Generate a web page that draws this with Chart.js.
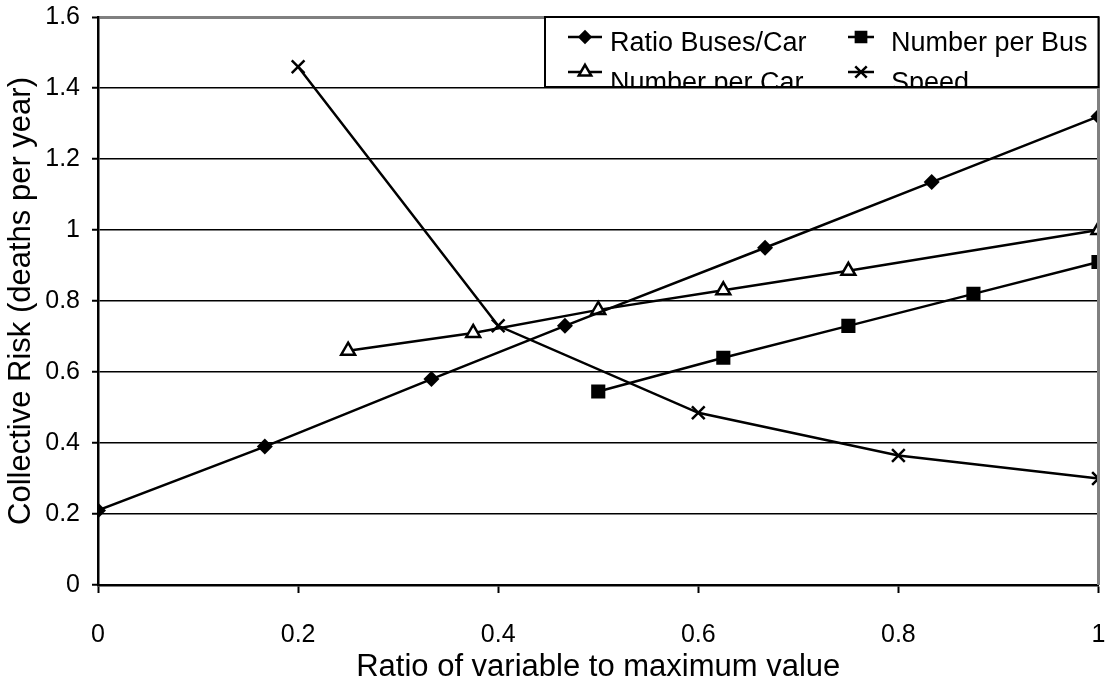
<!DOCTYPE html>
<html>
<head>
<meta charset="utf-8">
<script src="https://cdn.jsdelivr.net/npm/chart.js@4/dist/chart.umd.min.js"></script>
<style>
  html, body { margin: 0; padding: 0; background: #fff; overflow: hidden; }
  #wrap { width: 1110px; height: 681px; position: relative; }
</style>
</head>
<body>
<div id="wrap"><canvas id="chart"></canvas></div>
<script>
// values
const busCarX = [0, 0.1667, 0.3333, 0.4667, 0.6667, 0.8333, 1];
const busCarY = [0.21, 0.39, 0.58, 0.73, 0.95, 1.135, 1.32];
const perBusX = [0.5, 0.625, 0.75, 0.875, 1];
const perBusY = [0.545, 0.64, 0.73, 0.82, 0.91];
const perCarX = [0.25, 0.375, 0.5, 0.625, 0.75, 1];
const perCarY = [0.66, 0.71, 0.775, 0.83, 0.885, 1.0];
const speedX = [0.2, 0.4, 0.6, 0.8, 1];
const speedY = [1.46, 0.73, 0.485, 0.365, 0.30];

const seriesNames = ['Ratio Buses/Car', 'Number per Bus', 'Number per Car', 'Speed'];
const xTickLabels = ['0', '0.2', '0.4', '0.6', '0.8', '1'];
const yTickLabels = ['0', '0.2', '0.4', '0.6', '0.8', '1', '1.2', '1.4', '1.6'];

const FONT = "'Liberation Sans', Arial, sans-serif";

function pts(xs, ys) {
    return xs.map((x, i) => ({ x: x, y: ys[i] }));
}

function series(label, data, style, radius, fill, pointBorder) {
    return {
        label: label,
        data: data,
        showLine: true,
        borderColor: '#000',
        borderWidth: 2.5,
        pointStyle: style,
        pointRadius: radius,
        pointHoverRadius: radius,
        pointBackgroundColor: fill,
        pointBorderColor: '#000',
        pointBorderWidth: pointBorder
    };
}

// draws the boxed legend inside the top right of the plot, clipped like the original
const boxLegend = {
    id: 'boxLegend',
    afterDraw(chart) {
        const { ctx, chartArea } = chart;
        // gray plot border on the right
        ctx.save();
        ctx.strokeStyle = '#808080';
        ctx.lineWidth = 3;
        ctx.beginPath();
        ctx.moveTo(chartArea.right, chartArea.top);
        ctx.lineTo(chartArea.right, chartArea.bottom);
        ctx.stroke();
        ctx.restore();

        const left = 545, top = chartArea.top, right = chartArea.right, bottom = 87;
        const lineX = [[568, 602], [848, 874]];
        const textX = [610, 891];
        const rowY = [37, 72];
        const baseY = [51, 91];

        ctx.save();
        ctx.fillStyle = '#fff';
        ctx.fillRect(left, top, right - left, bottom - top);
        ctx.beginPath();
        ctx.rect(left, top, right - left, bottom - top);
        ctx.clip();
        chart.data.datasets.forEach((ds, i) => {
            const col = i % 2, row = Math.floor(i / 2);
            const y = rowY[row];
            ctx.strokeStyle = '#000';
            ctx.lineWidth = 2.5;
            ctx.beginPath();
            ctx.moveTo(lineX[col][0], y);
            ctx.lineTo(lineX[col][1], y);
            ctx.stroke();
            ctx.fillStyle = ds.pointBackgroundColor;
            ctx.strokeStyle = '#000';
            ctx.lineWidth = ds.pointBorderWidth;
            Chart.helpers.drawPoint(ctx, {
                pointStyle: ds.pointStyle,
                radius: ds.pointRadius * 0.9,
                rotation: 0,
                borderWidth: ds.pointBorderWidth
            }, (lineX[col][0] + lineX[col][1]) / 2, y);
            ctx.fillStyle = '#000';
            ctx.font = '27px ' + FONT;
            ctx.textBaseline = 'alphabetic';
            ctx.textAlign = 'left';
            ctx.fillText(ds.label, textX[col], baseY[row]);
        });
        ctx.restore();

        ctx.save();
        ctx.strokeStyle = '#000';
        ctx.lineWidth = 2;
        ctx.strokeRect(left, top, right - left, bottom - top);
        ctx.restore();
    }
};

const ctx = document.getElementById('chart').getContext('2d');
new Chart(ctx, {
    type: 'scatter',
    data: {
        datasets: [
            series(seriesNames[0], pts(busCarX, busCarY), 'rectRot', 8, '#000', 0),
            series(seriesNames[1], pts(perBusX, perBusY), 'rect', 10, '#000', 0),
            series(seriesNames[2], pts(perCarX, perCarY), 'triangle', 8, '#fff', 2.5),
            series(seriesNames[3], pts(speedX, speedY), 'crossRot', 9, '#000', 2.5)
        ]
    },
    options: {
        responsive: true,
        maintainAspectRatio: false,
        animation: false,
        layout: { padding: { top: 17, right: 2, bottom: 0, left: 0 } },
        plugins: {
            legend: { display: false },
            tooltip: { enabled: false }
        },
        scales: {
            x: {
                type: 'linear',
                min: 0,
                max: 1,
                ticks: {
                    stepSize: 0.2,
                    color: '#000',
                    padding: 27,
                    maxRotation: 0,
                    font: { family: FONT, size: 25 },
                    callback: (v, i) => xTickLabels[i]
                },
                grid: {
                    drawOnChartArea: false,
                    drawTicks: true,
                    tickLength: 8,
                    tickColor: '#000',
                    tickWidth: 2
                },
                border: { color: '#000', width: 2.5 },
                title: {
                    display: true,
                    text: 'Ratio of variable to maximum value',
                    color: '#000',
                    font: { family: FONT, size: 31 },
                    padding: { top: 0, bottom: -5 }
                },
                afterFit: (s) => { s.height = 96; s.paddingLeft = 0; s.paddingRight = 0; }
            },
            y: {
                type: 'linear',
                min: 0,
                max: 1.6,
                ticks: {
                    stepSize: 0.2,
                    color: '#000',
                    padding: 12,
                    font: { family: FONT, size: 25 },
                    callback: (v, i) => yTickLabels[i]
                },
                grid: {
                    color: (c) => (c.tick && Math.abs(c.tick.value - 1.6) < 1e-6) ? '#808080' : '#000',
                    lineWidth: (c) => (c.tick && Math.abs(c.tick.value - 1.6) < 1e-6) ? 3 : 1.5,
                    drawTicks: true,
                    tickLength: 6,
                    tickColor: '#000',
                    tickWidth: 2
                },
                border: { color: '#000', width: 2.5 },
                title: {
                    display: true,
                    text: 'Collective Risk (deaths per year)',
                    color: '#000',
                    font: { family: FONT, size: 31 },
                    padding: { top: 3, bottom: 0 }
                },
                afterFit: (s) => { s.width = 98; s.paddingTop = 0; s.paddingBottom = 0; }
            }
        }
    },
    plugins: [boxLegend]
});
</script>
</body>
</html>
